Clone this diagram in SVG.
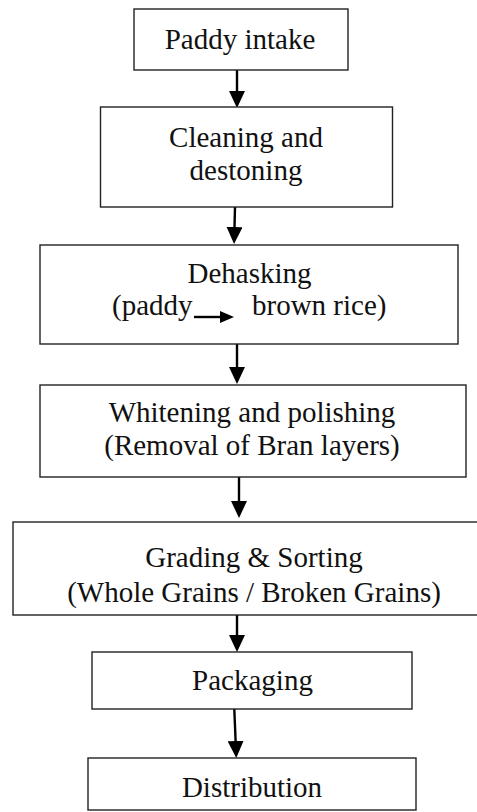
<svg xmlns="http://www.w3.org/2000/svg" width="477" height="812" viewBox="0 0 477 812">
<style>
.box{fill:#fff;stroke:#222;stroke-width:1.4}
.t{font-family:"Liberation Serif","Times New Roman",serif;font-size:29px;fill:#111;text-anchor:middle}
.c{stroke:#000;stroke-width:2.4;fill:none}
</style>
<defs>
<marker id="ah" viewBox="0 0 17 16" refX="0" refY="8" markerWidth="17" markerHeight="16" markerUnits="userSpaceOnUse" orient="auto">
<path d="M0,0 L17,8 L0,16 z" fill="#000"/>
</marker>
<marker id="ahs" viewBox="0 0 14 12" refX="0" refY="6" markerWidth="14" markerHeight="12" markerUnits="userSpaceOnUse" orient="auto">
<path d="M0,0 L14,6 L0,12 z" fill="#000"/>
</marker>
</defs>
<rect width="477" height="812" fill="#fff"/>
<g id="connectors">
<line class="c" x1="237" y1="70" x2="237" y2="91" marker-end="url(#ah)"/>
<line class="c" x1="235" y1="207" x2="234.5" y2="227" marker-end="url(#ah)"/>
<line class="c" x1="237" y1="344" x2="237" y2="367" marker-end="url(#ah)"/>
<line class="c" x1="239" y1="477" x2="239" y2="501" marker-end="url(#ah)"/>
<line class="c" x1="237" y1="615" x2="237" y2="635" marker-end="url(#ah)"/>
<line class="c" x1="234.3" y1="709" x2="235.6" y2="741" marker-end="url(#ah)"/>
</g>
<g id="n1">
<rect class="box" x="134" y="9" width="214" height="61"/>
<text class="t" x="240" y="49">Paddy intake</text>
</g>
<g id="n2">
<rect class="box" x="100.5" y="107" width="292" height="100"/>
<text class="t" x="246" y="147">Cleaning and</text>
<text class="t" x="246" y="180">destoning</text>
</g>
<g id="n3">
<rect class="box" x="40" y="245" width="418" height="99"/>
<text class="t" x="249.5" y="283">Dehasking</text>
<text class="t" x="112" y="315" style="text-anchor:start">(paddy</text>
<line class="c" x1="194" y1="317" x2="220" y2="317" marker-end="url(#ahs)"/>
<text class="t" x="252" y="315" style="text-anchor:start">brown rice)</text>
</g>
<g id="n4">
<rect class="box" x="40" y="385" width="426" height="92"/>
<text class="t" x="252" y="422">Whitening and polishing</text>
<text class="t" x="252" y="455">(Removal of Bran layers)</text>
</g>
<g id="n5">
<rect class="box" x="13" y="522" width="483" height="93"/>
<text class="t" x="254" y="567">Grading &amp; Sorting</text>
<text class="t" x="254" y="602">(Whole Grains / Broken Grains)</text>
</g>
<g id="n6">
<rect class="box" x="92" y="652" width="320" height="57"/>
<text class="t" x="252.5" y="690">Packaging</text>
</g>
<g id="n7">
<rect class="box" x="88" y="758" width="328" height="52"/>
<text class="t" x="252" y="797">Distribution</text>
</g>
</svg>
